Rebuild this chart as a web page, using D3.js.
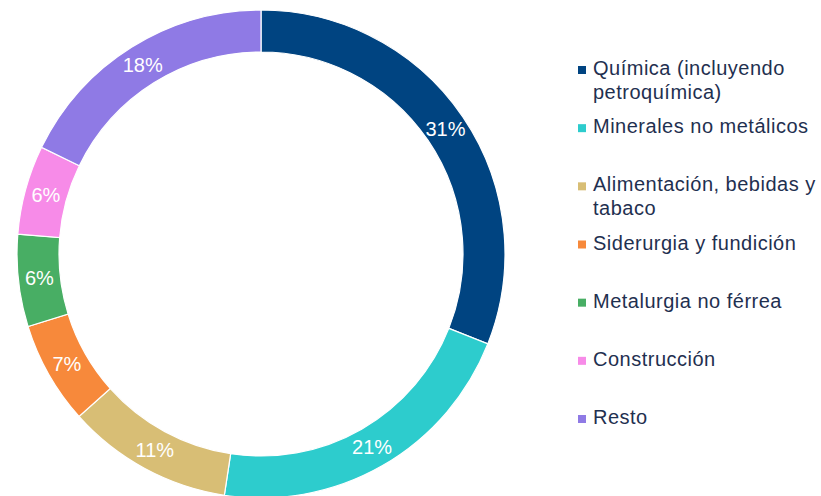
<!DOCTYPE html>
<html>
<head>
<meta charset="utf-8">
<script src="https://cdn.jsdelivr.net/npm/d3@7"></script>
<style>
  body { margin: 0; background: #fff; }
  text { font-family: "Liberation Sans", Arial, sans-serif; }
</style>
</head>
<body>
<div id="chart"></div>
<script>
// sectores (orden horario desde las 12)
var categories = [
  "Química (incluyendo petroquímica)",
  "Minerales no metálicos",
  "Alimentación, bebidas y tabaco",
  "Siderurgia y fundición",
  "Metalurgia no férrea",
  "Construcción",
  "Resto"
];
var legendLines = [
  ["Química (incluyendo", "petroquímica)"],
  ["Minerales no metálicos"],
  ["Alimentación, bebidas y", "tabaco"],
  ["Siderurgia y fundición"],
  ["Metalurgia no férrea"],
  ["Construcción"],
  ["Resto"]
];
// cuotas estimadas del dibujo (%), etiquetas redondeadas
var shares = [31, 21.4, 11, 6.8, 6.1, 5.9, 17.8];
var colors = ["#004481", "#2dcccd", "#d8be75", "#f7893b", "#48ae64", "#f78be8", "#8f7ae5"];

var width = 821, height = 496;
var cx = 261, cy = 254, outerR = 244, innerR = 202;

var svg = d3.select("#chart")
  .append("svg")
  .attr("width", width)
  .attr("height", height);

var color = d3.scaleOrdinal().domain(categories).range(colors);

var data = categories.map(function (c, i) {
  return { name: c, value: shares[i] };
});

var pie = d3.pie()
  .sort(null)
  .value(function (d) { return d.value; });

var arc = d3.arc()
  .innerRadius(innerR)
  .outerRadius(outerR);

var g = svg.append("g")
  .attr("transform", "translate(" + cx + "," + cy + ")");

var slices = g.selectAll(".slice")
  .data(pie(data))
  .enter()
  .append("g")
  .attr("class", "slice");

slices.append("path")
  .attr("d", arc)
  .style("fill", function (d) { return color(d.data.name); })
  .style("stroke", "#fff")
  .style("stroke-width", 1.2);

slices.append("text")
  .attr("transform", function (d) {
    return "translate(" + arc.centroid(d) + ")";
  })
  .attr("dy", "0.35em")
  .style("text-anchor", "middle")
  .style("font-size", "20px")
  .style("fill", "#fff")
  .text(function (d) { return Math.round(d.data.value) + "%"; });

// leyenda
var legendY = d3.scalePoint()
  .domain(categories)
  .range([75, 424]);

var legend = svg.selectAll(".legend")
  .data(categories)
  .enter()
  .append("g")
  .attr("class", "legend")
  .attr("transform", function (d) {
    return "translate(578," + legendY(d) + ")";
  });

legend.append("rect")
  .attr("x", 0)
  .attr("y", -9)
  .attr("width", 8)
  .attr("height", 8)
  .style("fill", function (d) { return color(d); });

legend.append("text")
  .attr("x", 15)
  .style("font-size", "20px")
  .style("letter-spacing", "0.5px")
  .style("fill", "#1f3050")
  .each(function (d, i) {
    var t = d3.select(this);
    legendLines[i].forEach(function (line, j) {
      t.append("tspan")
        .attr("x", 15)
        .attr("y", j * 24)
        .text(line);
    });
  });
</script>
</body>
</html>
